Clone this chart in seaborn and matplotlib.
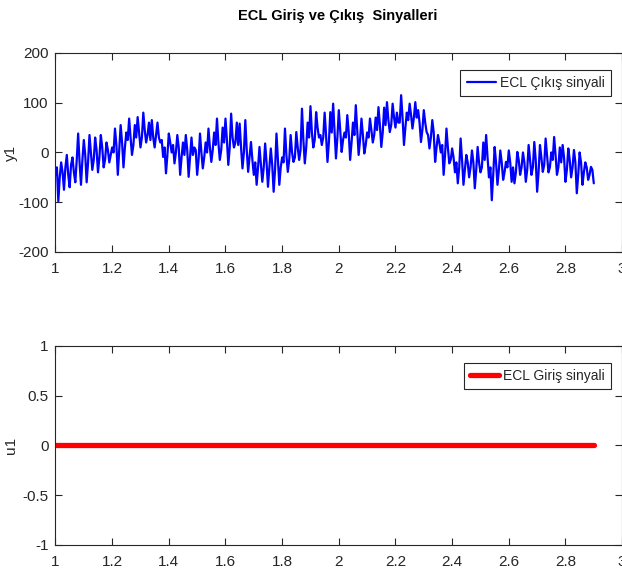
import numpy as np
import pandas as pd
import seaborn as sns
import matplotlib.pyplot as plt

# output signal y1: values at t = 1.00, 1.01, ... 2.90
t_start = 1.0
t_step = 0.01
y1_on = [-45, -98, -20, -75, -5, -70, -10, -60, 38, -65,
         25, -60, 35, -35, 30, -40, 35, -30, 20, -20,
         10, 48, -45, 55, -30, 40, 68, -5, 55, 71,
         10, 80, 20, 60,
         65, 10, 60, 20, -9, -42, 38, 0, -22, 35,
         -45, 20, 35, -49, 30, 10, -45, 38, -32, 20,
         48, -19, 40, 68, -15, 50, 68, -25, 78, 10,
         60,
         58, -32, 65, -39, 21, -45, -65, 11, -59, 18,
         -69, 8, -79, 38, -65, -10, 48, -39, 35, -19,
         41, -15, 88, -22, 60, 93, 10, 81, 30, 15,
         80, -19,
         81, 98, -12, 85, 1, 40, 75, -15, 60, 95,
         -5, 68, -2, 40, 68, 20, 70, 91, 11, 90,
         101, 41, 98, 50, 60, 115, 15, 80, 98, 48,
         101,
         85, 21, 85, 41, 8, 65, -19, 35, 0, -45,
         48, -22, 8, -40, -62, 28, -65, -5, -50, 4,
         -72, 11, -40, 20, 35, -50, -96, 11, -65, 4,
         -55, -19,
         4, -59, -62, 1, -45, 0, -59, 15, -45, 21,
         -79, 15, -39, 28, -40, 0, 31, -45, 10, 15,
         -59, 8, -50, 5, -82, 0, -65, -20, -55, -29,
         -62]

# values in between, at t = 1.005, 1.015, ... 2.895
y1_half = [-30, -50, -40, -30, -45, -25, -40, -15, -20, -15,
           -5, -20, 0, -15, 5, -10, 10, -15, 5, -5,
           0, 15, 5, 20, 10, 25, 30, 15, 30, 40,
           30, 45, 35, 25,
           30, 35, 30, 25, 10, -5, 20, 15, 0, 10,
           -10, -5, 5, -10, -5, 5, -15, 0, -10, 0,
           10, 5, 15, 20, 5, 20, 25, 10, 30, 20,
           15,
           10, 0, 5, -10, -15, -20, -30, -25, -30, -20,
           -30, -25, -35, -15, -30, -20, -5, -15, 0, -10,
           10, 5, 25, 10, 30, 40, 25, 50, 35, 30,
           35, 20,
           40, 45, 30, 45, 25, 30, 40, 20, 35, 45,
           25, 35, 15, 30, 45, 35, 45, 55, 40, 55,
           65, 55, 70, 80, 60, 70, 50, 65, 75, 70,
           70,
           60, 45, 60, 35, 30, 40, 10, 20, 15, -5,
           10, -15, -10, -20, -30, -15, -35, -20, -30, -20,
           -35, -20, -30, -15, -10, -30, -45, -20, -35, -20,
           -40, -30,
           -20, -30, -40, -15, -30, -20, -35, -15, -30, -15,
           -40, -10, -25, -5, -30, -15, -5, -30, -20, -10,
           -35, -15, -30, -20, -45, -20, -40, -30, -45, -35]

y1 = np.empty(len(y1_on) + len(y1_half))
y1[0::2] = y1_on
y1[1::2] = y1_half
t1 = np.round(t_start + t_step / 2 * np.arange(len(y1)), 4)

# input signal u1 (constant zero)
u_time = [1.0, 2.9]
u1 = [0.0, 0.0]

top = pd.DataFrame({'t': t1, 'y1': y1})
bot = pd.DataFrame({'t': u_time, 'u1': u1})

sns.set_style('ticks')
plt.rcParams['font.family'] = ['Liberation Sans', 'DejaVu Sans']
plt.rcParams['axes.unicode_minus'] = False
plt.rcParams['xtick.direction'] = 'in'
plt.rcParams['ytick.direction'] = 'in'
txt = '#262626'

fig = plt.figure(figsize=(6.22, 5.77), dpi=100)
ax1 = fig.add_axes([0.0892, 0.5633, 0.911, 0.345])
ax2 = fig.add_axes([0.0892, 0.0555, 0.911, 0.345])

sns.lineplot(data=top, x='t', y='y1', ax=ax1, color='#0000ff', lw=1.6,
             label='ECL Çıkış sinyali')
sns.lineplot(data=bot, x='t', y='u1', ax=ax2, color='#ff0000', lw=3.8,
             label='ECL Giriş sinyali')

ax1.set_ylim(-200, 200)
ax1.set_yticks([-200, -100, 0, 100, 200])
ax2.set_ylim(-1, 1)
ax2.set_yticks([-1, -0.5, 0, 0.5, 1])
ax2.set_yticklabels(['-1', '-0.5', '0', '0.5', '1'])

for ax, lab in [(ax1, 'y1'), (ax2, 'u1')]:
    ax.set_xlim(1, 3)
    ax.set_xticks(np.arange(1, 3.01, 0.2))
    ax.set_xticklabels(['1', '1.2', '1.4', '1.6', '1.8', '2', '2.2', '2.4', '2.6', '2.8', '3'])
    ax.set_xlabel('')
    ax.set_ylabel(lab, fontsize=11, color=txt)
    ax.yaxis.set_label_coords(-37 / 566, 0.5)
    ax.tick_params(axis='both', which='both', top=True, right=True, length=5,
                   width=0.8, color=txt, labelcolor=txt, labelsize=11)
    ax.tick_params(axis='x', pad=7)
    ax.tick_params(axis='y', pad=5)
    for s in ax.spines.values():
        s.set_visible(True)
        s.set_color(txt)
        s.set_linewidth(0.8)
    leg = ax.legend(loc='upper right', bbox_to_anchor=(1 - 11 / 566, 1 - 17 / 199),
                    borderaxespad=0, fontsize=10, fancybox=False, framealpha=1,
                    edgecolor=txt, handlelength=2.1, handletextpad=0.3,
                    borderpad=0.45)
    leg.get_frame().set_linewidth(0.8)

fig.text(0.5435, 0.972, 'ECL Giriş ve Çıkış  Sinyalleri', ha='center', va='center',
         fontsize=10.5, fontweight='bold', color='black')

fig.savefig('out.png', dpi=100)
